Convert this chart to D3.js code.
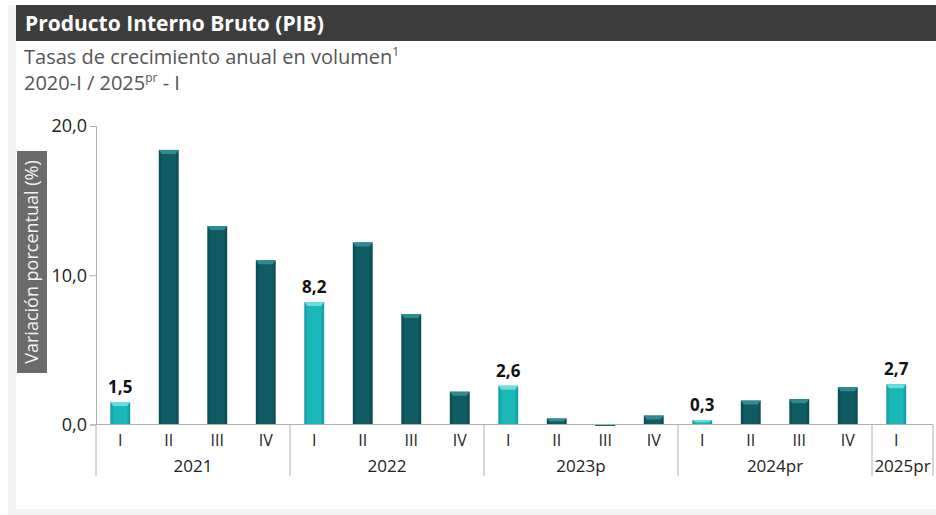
<!DOCTYPE html>
<html>
<head>
<meta charset="utf-8">
<script src="https://cdn.jsdelivr.net/npm/d3@7"></script>
<style>
  body { margin: 0; background: #ffffff; font-family: "Open Sans", sans-serif; }
</style>
</head>
<body>
<div id="chart"></div>
<script>
// quarters and years (group labels)
const QUARTERS = ["I", "II", "III", "IV", "I", "II", "III", "IV", "I", "II", "III", "IV", "I", "II", "III", "IV", "I"];
const YEARS = ["2021", "2022", "2023p", "2024pr", "2025pr"];
const YEAR_SIZES = [4, 4, 4, 4, 1];
const VALUES = [1.5, 18.4, 13.3, 11.0, 8.2, 12.2, 7.4, 2.2, 2.6, 0.4, -0.1, 0.6, 0.3, 1.6, 1.7, 2.5, 2.7];
const Y_TICKS = [0, 10, 20];

const W = 936, H = 515;
const svg = d3.select("#chart").append("svg")
    .attr("width", W)
    .attr("height", H)
    .style("font-family", "'Open Sans', sans-serif");

// frame
svg.append("rect").attr("x", 8).attr("y", 5).attr("width", W - 8).attr("height", H - 5).attr("fill", "#f4f4f4");
svg.append("rect").attr("x", 16).attr("y", 5).attr("width", W - 16).attr("height", 504).attr("fill", "#ffffff");
svg.append("rect").attr("x", 16).attr("y", 5).attr("width", W - 16).attr("height", 36).attr("fill", "#3d3d3d");
svg.append("text").attr("x", 25).attr("y", 31)
    .attr("fill", "#ffffff").attr("font-size", 21).attr("font-weight", 700)
    .text("Producto Interno Bruto (PIB)");

const sub = svg.append("g").attr("fill", "#555555").attr("font-size", 20);
let t1 = sub.append("text").attr("x", 24).attr("y", 64);
t1.append("tspan").text("Tasas de crecimiento anual en volumen");
t1.append("tspan").attr("font-size", 12).attr("dy", -8).text("1");
let t2 = sub.append("text").attr("x", 24).attr("y", 90);
t2.append("tspan").text("2020-I / 2025");
t2.append("tspan").attr("font-size", 12).attr("dy", -8).text("pr");
t2.append("tspan").attr("dy", 8).text(" - I");

// scales
const left = 96, step = 48.5;
const idx = d3.range(VALUES.length);
const x = d3.scaleBand().domain(idx).range([left, left + step * VALUES.length]).paddingInner(0.59).paddingOuter(0.295);
const y = d3.scaleLinear().domain([0, 20]).range([424.5, 126]);
const axisEnd = 933;

// gradients for bars
const defs = svg.append("defs");
function grad(id, edge, mid) {
    const g = defs.append("linearGradient").attr("id", id).attr("x1", 0).attr("x2", 1).attr("y1", 0).attr("y2", 0);
    g.append("stop").attr("offset", "0%").attr("stop-color", edge);
    g.append("stop").attr("offset", "20%").attr("stop-color", mid);
    g.append("stop").attr("offset", "80%").attr("stop-color", mid);
    g.append("stop").attr("offset", "100%").attr("stop-color", edge);
}
grad("gLight", "#109a9d", "#1bb8ba");
grad("gDark", "#0a4950", "#0f5c64");

// y axis
const yAxis = svg.append("g").attr("transform", `translate(${left},0)`)
    .call(d3.axisLeft(y).tickValues(Y_TICKS).tickSize(6).tickFormat(d => d3.format(".1f")(d).replace(".", ",")));
yAxis.select(".domain").attr("stroke", "#b0b0b0");
yAxis.selectAll(".tick line").attr("stroke", "#b0b0b0");
yAxis.selectAll(".tick text").attr("font-size", 18).attr("fill", "#222").attr("x", -9)
    .style("font-family", "'Open Sans', sans-serif");

// y label box
const lab = svg.append("g").attr("transform", "translate(32,262) rotate(-90)");
lab.append("rect").attr("x", -111).attr("y", -15).attr("width", 222).attr("height", 30).attr("fill", "#6b6b6b");
lab.append("text").attr("text-anchor", "middle").attr("dy", 6).attr("fill", "#f2f2f2").attr("font-size", 18)
    .text("Variación porcentual (%)");

// bars
const isFirst = i => QUARTERS[i] === "I";
const bars = svg.append("g");
idx.forEach(i => {
    const v = VALUES[i];
    const bx = x(i), bw = x.bandwidth();
    const top = Math.min(y(v), y(0)), h = Math.max(Math.abs(y(v) - y(0)), 1);
    bars.append("rect").attr("x", bx).attr("y", top).attr("width", bw).attr("height", h)
        .attr("fill", isFirst(i) ? "url(#gLight)" : "url(#gDark)");
    const cap = Math.min(4, h / 2);
    bars.append("path")
        .attr("d", `M${bx},${top}L${bx + bw},${top}L${bx + bw - 3},${top + cap}L${bx + 3},${top + cap}Z`)
        .attr("fill", isFirst(i) ? "#6cdcdc" : "#2f8a91");
});

// value labels on first quarters
svg.append("g").selectAll("text")
    .data(idx.filter(isFirst))
    .join("text")
    .attr("x", i => x(i) + x.bandwidth() / 2)
    .attr("y", i => y(VALUES[i]) - 9)
    .attr("text-anchor", "middle")
    .attr("font-size", 17).attr("font-weight", 700).attr("fill", "#111")
    .text(i => d3.format(".1f")(VALUES[i]).replace(".", ","));

// x axis
const xa = svg.append("g").attr("stroke", "#b0b0b0");
xa.append("line").attr("x1", left).attr("x2", axisEnd).attr("y1", y(0)).attr("y2", y(0));
let start = 0;
const bounds = [];
YEARS.forEach((yr, k) => {
    const x0 = left + start * step;
    const x1 = k === YEARS.length - 1 ? axisEnd : left + (start + YEAR_SIZES[k]) * step;
    bounds.push(x0);
    svg.append("text").attr("x", (x0 + x1) / 2).attr("y", 472)
        .attr("text-anchor", "middle").attr("font-size", 17).attr("fill", "#222").text(yr);
    start += YEAR_SIZES[k];
});
bounds.push(axisEnd);
xa.selectAll("line.sep").data(bounds).join("line").attr("class", "sep")
    .attr("x1", d => d).attr("x2", d => d).attr("y1", y(0)).attr("y2", 476);

svg.append("g").selectAll("text")
    .data(idx)
    .join("text")
    .attr("x", i => x(i) + x.bandwidth() / 2)
    .attr("y", 446)
    .attr("text-anchor", "middle").attr("font-size", 16).attr("fill", "#222")
    .text(i => QUARTERS[i]);
</script>
</body>
</html>
